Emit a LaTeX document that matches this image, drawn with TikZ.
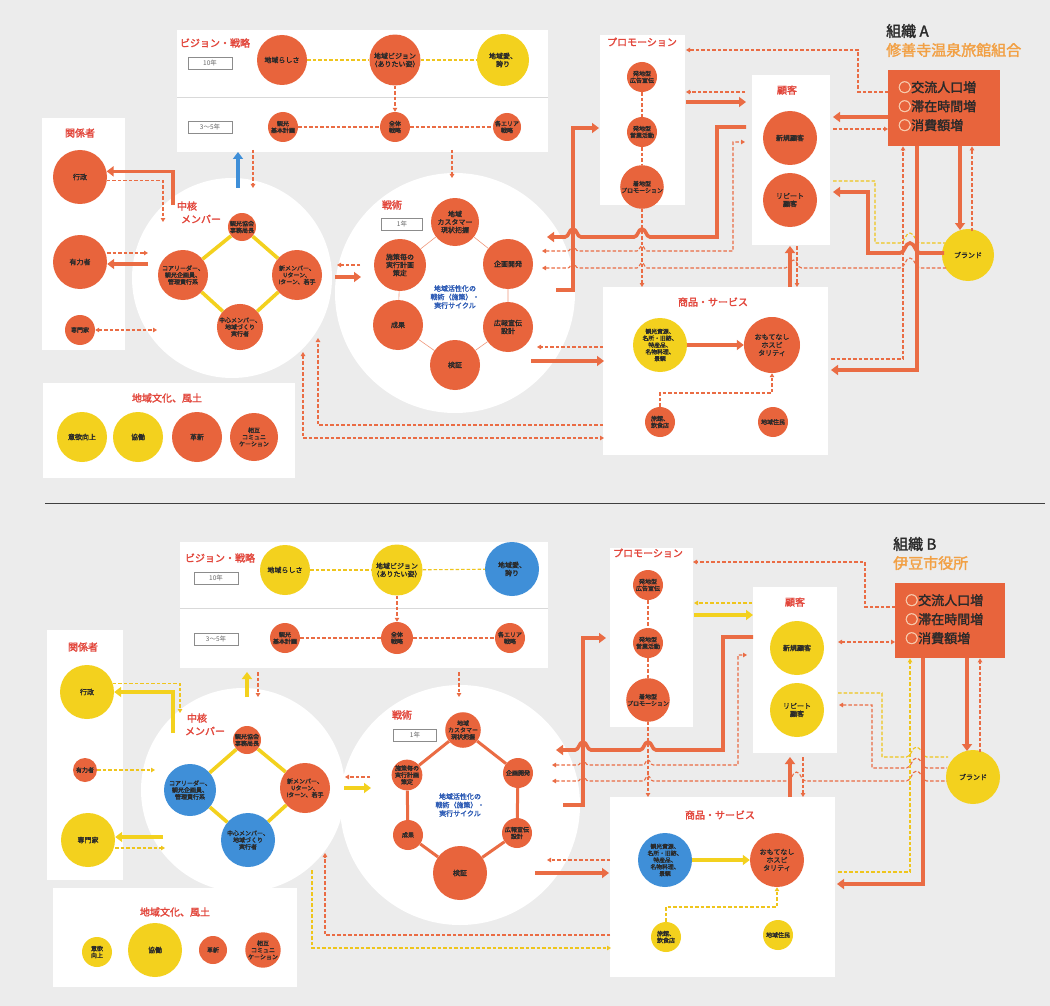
\documentclass[tikz,border=0pt]{standalone}
\usepackage{fontspec}
\setmainfont{Noto Sans CJK JP}[AutoFakeBold=2]
\usetikzlibrary{arrows.meta}
\definecolor{cOr}{HTML}{E8643C}
\definecolor{cYe}{HTML}{F3D11E}
\definecolor{cBl}{HTML}{3F8FD8}
\definecolor{cLn}{HTML}{EA6C44}
\definecolor{cYd}{HTML}{EFC51C}
\definecolor{cRed}{HTML}{E2453A}
\definecolor{cSub}{HTML}{F2A044}
\definecolor{cBg}{HTML}{ECECEC}
\definecolor{cTxt}{HTML}{2A2A2A}
\definecolor{cCyc}{HTML}{2D5BB5}
\definecolor{cRing}{HTML}{F8CDB0}
% a small hump where a horizontal line crosses a vertical one (path runs left to right)
\newcommand\hopover[3]{-- ({#1-#3},#2) .. controls ({#1-#3/2},#2) and ({#1-#3/2},{#2-#3}) .. (#1,{#2-#3}) .. controls ({#1+#3/2},{#2-#3}) and ({#1+#3/2},#2) .. ({#1+#3},#2)}
\begin{document}
\begin{tikzpicture}[x=1pt,y=-1pt,
  nd/.style={circle,inner sep=0pt,align=center,text=cTxt,font=\fontsize{7}{8}\selectfont\bfseries},
  sm/.style={font=\fontsize{6}{6.8}\selectfont\bfseries},
  ocir/.style={nd,fill=cOr},
  ycir/.style={nd,fill=cYe},
  bcir/.style={nd,fill=cBl},
  lbl/.style={inner sep=0pt,text=cRed,font=\fontsize{10}{12}\selectfont\bfseries},
  yrs/.style={draw=black!45,fill=white,line width=0.5pt,minimum width=44pt,minimum height=12pt,inner sep=0pt,text=black!60,font=\fontsize{6.5}{7}\selectfont},
  thk/.style={draw=cLn,line width=3.6pt},
  ythk/.style={draw=cYe,line width=3.6pt},
  bthk/.style={draw=cBl,line width=3.6pt},
  dsh/.style={draw=cLn,line width=1.1pt,dash pattern=on 3.5pt off 2pt},
  ydsh/.style={draw=cYd,line width=1.1pt,dash pattern=on 3.5pt off 2pt},
  ta/.style={-{Triangle[length=7pt,width=10pt]}},
  tas/.style={{Triangle[length=7pt,width=10pt]}-},
  da/.style={-{Triangle[length=4pt,width=4.5pt]}},
  das/.style={{Triangle[length=4pt,width=4.5pt]}-},
  dab/.style={{Triangle[length=4pt,width=4.5pt]}-{Triangle[length=4pt,width=4.5pt]}},
  orgt/.style={inner sep=0pt,align=left,text=cTxt,font=\fontsize{13}{19}\selectfont\bfseries},
  orgn/.style={inner sep=0pt,anchor=west,font=\fontsize{15}{17}\selectfont\bfseries},
  cyc/.style={inner sep=0pt,align=center,text=cCyc,font=\fontsize{7}{8.5}\selectfont\bfseries}
]
\useasboundingbox (0,0) rectangle (1050,1006);
\fill[cBg] (0,0) rectangle (1050,1006);
\draw[black!75,line width=0.7pt] (45,503) -- (1045,503);

% ======================= 組織A =======================
% white panels
\fill[white] (177,30) rectangle (548,152);
\draw[black!15,line width=0.6pt] (177,97) -- (548,97);
\fill[white] (42,118) rectangle (125,350);
\fill[white] (43,383) rectangle (295,478);
\fill[white] (232,278) circle[radius=100];
\fill[white] (455,293) circle[radius=120];
\fill[white] (600,35) rectangle (685,205);
\fill[white] (752,75) rectangle (830,245);
\fill[white] (603,287) rectangle (828,455);

% vision / strategy
\node[lbl] (aVisL) at (215,43) {ビジョン・戦略};
\node[yrs] (aY10) at (210,63) {10年};
\node[yrs] (aY35) at (210,127) {3〜5年};
\node[ocir,minimum size=50pt] (aLoc) at (282,60) {地域らしさ};
\node[ocir,minimum size=48pt] (aVis) at (395,60) {地域ビジョン\\（ありたい姿）};
\node[ycir,minimum size=52pt] (aPri) at (503,60) {地域愛、\\誇り};
\node[ocir,sm,minimum size=30pt] (aPlan) at (283,127) {観光\\基本計画};
\node[ocir,sm,minimum size=30pt] (aStr) at (395,127) {全体\\戦略};
\node[ocir,sm,minimum size=28pt] (aArea) at (507,127) {各エリア\\戦略};
\draw[ydsh] (aLoc) -- (aVis);
\draw[ydsh] (aVis) -- (aPri);
\draw[dsh,da] (aVis) -- (aStr);
\draw[dsh] (aPlan) -- (aStr);
\draw[dsh] (aStr) -- (aArea);

% stakeholders
\node[lbl] (aStkL) at (80,133) {関係者};
\node[ocir,minimum size=54pt] (aGov) at (80,177) {行政};
\node[ocir,minimum size=54pt] (aInf) at (80,262) {有力者};
\node[ocir,sm,minimum size=30pt] (aExp) at (80,330) {専門家};

% core members
\node[lbl] (aCore1) at (187,206) {中核};
\node[lbl] (aCore2) at (201,219) {メンバー};
\node[ocir,sm,minimum size=28pt] (aM1) at (242,227) {観光協会\\事務局長};
\node[ocir,sm,minimum size=50pt] (aM2) at (183,275) {コアリーダー、\\観光企画員、\\管理責行系};
\node[ocir,sm,minimum size=50pt] (aM3) at (297,275) {新メンバー、\\Uターン、\\Iターン、若手};
\node[ocir,sm,minimum size=30pt] (aM4) at (240,327) {中心メンバー、\\地域づくり\\実行者};
\draw[ythk] (aM1) -- (aM2) -- (aM4) -- (aM3) -- (aM1);

\coordinate (aCoreOut) at (173,205);
\coordinate (aCoreIn) at (163,222);
\draw[thk,ta] (aCoreOut) |- (aGov.12);
\draw[dsh,da] (aGov.-8) -| (aCoreIn);
\coordinate (aInfR1) at (148,253);
\coordinate (aInfR2) at (148,264);
\draw[dsh,da] (aInf.east |- aInfR1) -- (aInfR1);
\draw[thk,ta] (aInfR2) -- (aInf.east |- aInfR2);
\coordinate (aExpR) at (157,330);
\draw[dsh,dab] (aExp) -- (aExpR);

\coordinate (aUpA) at (238,188);
\coordinate (aUpB) at (238,152);
\draw[bthk,ta] (aUpA) -- (aUpB);
\coordinate (aDnA) at (253,150);
\coordinate (aDnB) at (253,188);
\draw[dsh,da] (aDnA) -- (aDnB);
\coordinate (aTdA) at (452,150);
\coordinate (aTdB) at (452,178);
\draw[dsh,da] (aTdA) -- (aTdB);

% regional culture
\node[lbl] (aCulL) at (167,398) {地域文化、風土};
\node[ycir,minimum size=50pt] (aC1) at (82,437) {意欲向上};
\node[ycir,minimum size=50pt] (aC2) at (138,437) {協働};
\node[ocir,minimum size=50pt] (aC3) at (197,437) {革新};
\node[ocir,sm,minimum size=48pt] (aC4) at (254,437) {相互\\コミュニ\\ケーション};

% tactics cycle
\node[lbl] (aTacL) at (392,205) {戦術};
\node[yrs,minimum width=41pt] (aY1) at (402,224) {1年};
\node[ocir,minimum size=48pt] (aT1) at (455,222) {地域\\カスタマー\\現状把握};
\node[ocir,minimum size=50pt] (aT2) at (508,264) {企画開発};
\node[ocir,minimum size=50pt] (aT3) at (508,327) {広報宣伝\\設計};
\node[ocir,minimum size=50pt] (aT4) at (455,365) {検証};
\node[ocir,minimum size=50pt] (aT5) at (398,325) {成果};
\node[ocir,minimum size=52pt] (aT6) at (400,265) {施策毎の\\実行計画\\策定};
\node[cyc] (aCyc) at (455,297) {地域活性化の\\戦術（施策）・\\実行サイクル};
\draw[cLn!70,line width=0.6pt] (aT1) -- (aT2) -- (aT3) -- (aT4) -- (aT5) -- (aT6) -- (aT1);

\coordinate (aCtA) at (360,265);
\coordinate (aCtB) at (337,265);
\draw[dsh,da] (aCtA) -- (aCtB);
\coordinate (aCtC) at (335,277);
\coordinate (aCtD) at (361,277);
\draw[thk,ta] (aCtC) -- (aCtD);

% promotion
\node[lbl] (aProL) at (642,42) {プロモーション};
\node[ocir,sm,minimum size=30pt] (aPr1) at (642,77) {発地型\\広告宣伝};
\node[ocir,sm,minimum size=30pt] (aPr2) at (642,132) {発地型\\営業活動};
\node[ocir,sm,minimum size=30pt] (aPr3) at (642,187) {着地型\\プロモーション};
\coordinate (aPrEnd) at (642,287);
\draw[dsh] (aPr1) -- (aPr2);
\draw[dsh] (aPr2) -- (aPr3);
\draw[dsh,da] (aPr3) -- (aPrEnd);

% customers
\node[lbl] (aCusL) at (787,90) {顧客};
\node[ocir,minimum size=54pt] (aNew) at (790,138) {新規顧客};
\node[ocir,minimum size=54pt] (aRep) at (790,200) {リピート\\顧客};
\coordinate (aPcA) at (745,92);
\coordinate (aPcB) at (686,92);
\draw[dsh,da] (aPcA) -- (aPcB);
\coordinate (aPcC) at (686,102);
\coordinate (aPcD) at (746,102);
\draw[thk,ta] (aPcC) -- (aPcD);

% products and services
\node[lbl] (aProdL) at (713,302) {商品・サービス};
\node[ycir,minimum size=54pt,font=\fontsize{5.8}{6.8}\selectfont\bfseries] (aRes) at (660,345) {観光資源、\\名所・旧跡、\\特産品、\\名物料理、\\景観};
\node[ocir,minimum size=56pt] (aHos) at (772,345) {おもてなし\\ホスピ\\タリティ};
\node[ocir,sm,minimum size=30pt] (aInn) at (660,422) {旅館、\\飲食店};
\node[ocir,sm,minimum size=30pt] (aLiv) at (773,422) {地域住民};
\draw[thk,ta] (aRes) -- (aHos);
\draw[dsh,da] (aInn.north) -- (660,393) -- (772,393) -- (aHos.south);

\coordinate (aPuA) at (790,287);
\coordinate (aPuB) at (790,246);
\draw[thk,ta] (aPuA) -- (aPuB);
\coordinate (aPdA) at (797,246);
\coordinate (aPdB) at (797,287);
\draw[dsh,da] (aPdA) -- (aPdB);

% organisation A
\node[orgn,text=cTxt] (aOrgN) at (886,31) {組織 A};
\node[orgn,text=cSub] (aOrgS) at (886,50) {修善寺温泉旅館組合};
\node[fill=cOr,minimum width=112pt,minimum height=76pt,anchor=north west,inner sep=0pt] (aOrg) at (888,70) {};
\node[orgt,anchor=north west] (aOrgT) at (898,81) {{\color{cRing}○}交流人口増\\{\color{cRing}○}滞在時間増\\{\color{cRing}○}消費額増};
\node[ycir,minimum size=52pt] (aBr) at (968,255) {ブランド};

% tactics -> promotion
\coordinate (aTpS) at (556,290);
\coordinate (aTpE) at (599,128);
\draw[thk,ta] (aTpS) -- (573,290) -- (573,128) -- (aTpE);
% new customers -> tactics
\coordinate (aNtE) at (547,237);
\coordinate (aNtS) at (746,127);
\draw[thk,tas] (aNtE) \hopover{573}{237}{8} \hopover{642}{237}{8} -- (717,237) -- (717,127) -- (aNtS);
% dashed feedback lines
\coordinate (aFbA) at (542,251);
\coordinate (aFbB) at (745,142);
\draw[dsh,dab] (aFbA) \hopover{573}{251}{5} \hopover{642}{251}{5} -- (733,251) -- (733,142) -- (aFbB);
\coordinate (aFbC) at (542,268);
\coordinate (aFbD) at (946,268);
\draw[dsh,das] (aFbC) \hopover{573}{268}{5} \hopover{642}{268}{5} \hopover{793.5}{268}{8} \hopover{910}{268}{10} -- (aFbD);
% customers <-> brand
\coordinate (aYbS) at (833,181);
\coordinate (aYbE) at (945,243);
\draw[ydsh] (aYbS) -- (875,181) -- (875,243) \hopover{910}{243}{10} -- (aYbE);
\coordinate (aRbE) at (833,192);
\coordinate (aRbS) at (944,253);
\draw[thk,tas] (aRbE) -- (868,192) -- (868,253) \hopover{910}{253}{10} -- (aRbS);
% organisation links
\coordinate (aOpE) at (686,50);
\draw[dsh,da] (aOrg.west |- 0,92) -- (858,92) -- (858,50) -- (aOpE);
\coordinate (aOnE) at (833,117);
\draw[thk,ta] (aOrg.west |- 0,117) -- (aOnE);
\coordinate (aNoS) at (833,129);
\draw[dsh,da] (aNoS) -- (aOrg.west |- 0,129);
\coordinate (aObE) at (960,230);
\draw[thk,ta] (aOrg.south -| aObE) -- (aObE);
\coordinate (aBoS) at (972,231);
\draw[dsh,da] (aBoS) -- (aOrg.south -| aBoS);
\coordinate (aOhE) at (831,370);
\draw[thk,ta] (aOrg.south -| 917,0) -- (917,370) -- (aOhE);
\coordinate (aHoS) at (831,359);
\draw[dsh,da] (aHoS) -- (903,359) -- (aOrg.south -| 903,0);

% tactics <-> products
\coordinate (aTsA) at (603,347);
\coordinate (aTsB) at (537,347);
\draw[dsh,da] (aTsA) -- (aTsB);
\coordinate (aTsC) at (531,361);
\coordinate (aTsD) at (604,361);
\draw[thk,ta] (aTsC) -- (aTsD);
% core <-> products
\coordinate (aCpA) at (603,425);
\coordinate (aCpB) at (318,338);
\draw[dsh,da] (aCpA) -- (318,425) -- (aCpB);
\coordinate (aCpC) at (303,352);
\coordinate (aCpD) at (604,438);
\draw[dsh,dab] (aCpC) -- (303,438) -- (aCpD);

% ======================= 組織B =======================
\fill[white] (180,542) rectangle (548,668);
\draw[black!15,line width=0.6pt] (180,608) -- (548,608);
\fill[white] (47,630) rectangle (123,880);
\fill[white] (53,888) rectangle (297,987);
\fill[white] (243,790) circle[radius=102];
\fill[white] (460,805) circle[radius=120];
\fill[white] (610,548) rectangle (693,727);
\fill[white] (753,587) rectangle (837,753);
\fill[white] (610,797) rectangle (835,977);

% vision / strategy
\node[lbl] (bVisL) at (220,558) {ビジョン・戦略};
\node[yrs] (bY10) at (216,578) {10年};
\node[yrs] (bY35) at (216,639) {3〜5年};
\node[ycir,minimum size=50pt] (bLoc) at (285,570) {地域らしさ};
\node[ycir,minimum size=50pt] (bVis) at (397,570) {地域ビジョン\\（ありたい姿）};
\node[bcir,minimum size=54pt] (bPri) at (512,569) {地域愛、\\誇り};
\node[ocir,sm,minimum size=30pt] (bPlan) at (285,638) {観光\\基本計画};
\node[ocir,sm,minimum size=32pt] (bStr) at (397,638) {全体\\戦略};
\node[ocir,sm,minimum size=30pt] (bArea) at (510,638) {各エリア\\戦略};
\draw[ydsh] (bLoc) -- (bVis);
\draw[ydsh] (bVis) -- (bPri);
\draw[dsh,da] (bVis) -- (bStr);
\draw[dsh] (bPlan) -- (bStr);
\draw[dsh] (bStr) -- (bArea);

% stakeholders
\node[lbl] (bStkL) at (83,647) {関係者};
\node[ycir,minimum size=54pt] (bGov) at (87,692) {行政};
\node[ocir,sm,minimum size=24pt] (bInf) at (85,770) {有力者};
\node[ycir,minimum size=54pt] (bExp) at (88,840) {専門家};

% core members
\node[lbl] (bCore1) at (197,718) {中核};
\node[lbl] (bCore2) at (205,731) {メンバー};
\node[ocir,sm,minimum size=28pt] (bM1) at (247,740) {観光協会\\事務局長};
\node[bcir,sm,minimum size=52pt] (bM2) at (190,790) {コアリーダー、\\観光企画員、\\管理責行系};
\node[ocir,sm,minimum size=50pt] (bM3) at (305,788) {新メンバー、\\Uターン、\\Iターン、若手};
\node[bcir,sm,minimum size=54pt] (bM4) at (248,840) {中心メンバー、\\地域づくり\\実行者};
\draw[ythk] (bM1) -- (bM2) -- (bM4) -- (bM3) -- (bM1);

\coordinate (bCoreOut) at (173,733);
\coordinate (bCoreIn) at (180,713);
\draw[ythk,ta] (bCoreOut) |- (bGov.east);
\draw[ydsh,da] (bGov.18) -| (bCoreIn);
\coordinate (bInfR) at (155,770);
\draw[ydsh,da] (bInf) -- (bInfR);
\coordinate (bExpR1) at (163,837);
\coordinate (bExpR2) at (165,848);
\draw[ythk,ta] (bExpR1) -- (bExp.east |- bExpR1);
\draw[ydsh,da] (bExp.east |- bExpR2) -- (bExpR2);

\coordinate (bUpA) at (247,697);
\coordinate (bUpB) at (247,672);
\draw[ythk,ta] (bUpA) -- (bUpB);
\coordinate (bDnA) at (258,672);
\coordinate (bDnB) at (258,697);
\draw[dsh,da] (bDnA) -- (bDnB);
\coordinate (bTdA) at (459,672);
\coordinate (bTdB) at (459,697);
\draw[dsh,da] (bTdA) -- (bTdB);

% regional culture
\node[lbl] (bCulL) at (175,912) {地域文化、風土};
\node[ycir,sm,minimum size=30pt] (bC1) at (97,952) {意欲\\向上};
\node[ycir,minimum size=54pt] (bC2) at (155,950) {協働};
\node[ocir,sm,minimum size=28pt] (bC3) at (213,950) {革新};
\node[ocir,sm,minimum size=28pt] (bC4) at (263,950) {相互\\コミュニ\\ケーション};

% tactics cycle
\node[lbl] (bTacL) at (402,715) {戦術};
\node[yrs,minimum width=43pt] (bY1) at (415,735) {1年};
\node[ocir,sm,minimum size=30pt] (bT1) at (463,730) {地域\\カスタマー\\現状把握};
\node[ocir,sm,minimum size=30pt] (bT2) at (518,773) {企画開発};
\node[ocir,sm,minimum size=30pt] (bT3) at (517,833) {広報宣伝\\設計};
\node[ocir,minimum size=54pt] (bT4) at (460,873) {検証};
\node[ocir,sm,minimum size=30pt] (bT5) at (408,835) {成果};
\node[ocir,sm,minimum size=30pt] (bT6) at (407,775) {施策毎の\\実行計画\\策定};
\node[cyc] (bCyc) at (460,805) {地域活性化の\\戦術（施策）・\\実行サイクル};
\draw[cLn,line width=3pt] (bT1) -- (bT2) -- (bT3) -- (bT4) -- (bT5) -- (bT6) -- (bT1);

\coordinate (bCtA) at (370,777);
\coordinate (bCtB) at (345,777);
\draw[dsh,da] (bCtA) -- (bCtB);
\coordinate (bCtC) at (344,788);
\coordinate (bCtD) at (371,788);
\draw[ythk,ta] (bCtC) -- (bCtD);

% promotion
\node[lbl] (bProL) at (648,553) {プロモーション};
\node[ocir,sm,minimum size=30pt] (bPr1) at (648,585) {発地型\\広告宣伝};
\node[ocir,sm,minimum size=30pt] (bPr2) at (648,643) {発地型\\営業活動};
\node[ocir,sm,minimum size=30pt] (bPr3) at (648,700) {着地型\\プロモーション};
\coordinate (bPrEnd) at (648,797);
\draw[dsh] (bPr1) -- (bPr2);
\draw[dsh] (bPr2) -- (bPr3);
\draw[dsh,da] (bPr3) -- (bPrEnd);

% customers
\node[lbl] (bCusL) at (795,602) {顧客};
\node[ycir,minimum size=54pt] (bNew) at (797,648) {新規顧客};
\node[ycir,minimum size=54pt] (bRep) at (797,710) {リピート\\顧客};
\coordinate (bPcA) at (752,603);
\coordinate (bPcB) at (694,603);
\draw[ydsh,da] (bPcA) -- (bPcB);
\coordinate (bPcC) at (694,615);
\coordinate (bPcD) at (753,615);
\draw[ythk,ta] (bPcC) -- (bPcD);

% products and services
\node[lbl] (bProdL) at (720,815) {商品・サービス};
\node[bcir,minimum size=54pt,font=\fontsize{5.8}{6.8}\selectfont\bfseries] (bRes) at (665,860) {観光資源、\\名所・旧跡、\\特産品、\\名物料理、\\景観};
\node[ocir,minimum size=54pt] (bHos) at (777,860) {おもてなし\\ホスピ\\タリティ};
\node[ycir,sm,minimum size=30pt] (bInn) at (666,937) {旅館、\\飲食店};
\node[ycir,sm,minimum size=30pt] (bLiv) at (778,935) {地域住民};
\draw[ythk,ta] (bRes) -- (bHos);
\draw[ydsh,da] (bInn.north) -- (666,907) -- (777,907) -- (bHos.south);

\coordinate (bPuA) at (790,797);
\coordinate (bPuB) at (790,757);
\draw[thk,ta] (bPuA) -- (bPuB);
\coordinate (bPdA) at (803,757);
\coordinate (bPdB) at (803,797);
\draw[dsh,da] (bPdA) -- (bPdB);

% organisation B
\node[orgn,text=cTxt] (bOrgN) at (893,544) {組織 B};
\node[orgn,text=cSub] (bOrgS) at (893,563) {伊豆市役所};
\node[fill=cOr,minimum width=110pt,minimum height=75pt,anchor=north west,inner sep=0pt] (bOrg) at (895,583) {};
\node[orgt,anchor=north west] (bOrgT) at (905,594) {{\color{cRing}○}交流人口増\\{\color{cRing}○}滞在時間増\\{\color{cRing}○}消費額増};
\node[ycir,minimum size=54pt] (bBr) at (973,777) {ブランド};

% tactics -> promotion
\coordinate (bTpS) at (563,805);
\coordinate (bTpE) at (606,638);
\draw[thk,ta] (bTpS) -- (583,805) -- (583,638) -- (bTpE);
% new customers -> tactics
\coordinate (bNtE) at (556,750);
\coordinate (bNtS) at (753,637);
\draw[thk,tas] (bNtE) \hopover{583}{750}{8} \hopover{648}{750}{8} -- (723,750) -- (723,637) -- (bNtS);
% dashed feedback lines
\coordinate (bFbA) at (552,765);
\coordinate (bFbB) at (747,655);
\draw[dsh,dab] (bFbA) \hopover{583}{765}{5} \hopover{648}{765}{5} -- (738,765) -- (738,655) -- (bFbB);
\coordinate (bFbC) at (552,781);
\coordinate (bFbD) at (947,781);
\draw[dsh,das] (bFbC) \hopover{583}{781}{5} \hopover{648}{781}{5} \hopover{796.5}{781}{9} \hopover{916.5}{781}{10} -- (bFbD);
% customers <-> brand
\coordinate (bYbS) at (838,693);
\coordinate (bYbE) at (948,757);
\draw[ydsh] (bYbS) -- (882,693) -- (882,757) \hopover{916.5}{757}{10} -- (bYbE);
\coordinate (bRbE) at (839,705);
\coordinate (bRbS) at (947,768);
\draw[dsh,das] (bRbE) -- (872,705) -- (872,768) \hopover{916.5}{768}{10} -- (bRbS);
% organisation links
\coordinate (bOpE) at (693,562);
\draw[dsh,da] (bOrg.west |- 0,607) -- (865,607) -- (865,562) -- (bOpE);
\coordinate (bNoS) at (838,642);
\draw[dsh,dab] (bNoS) -- (bOrg.west |- 0,642);
\coordinate (bObE) at (967,751);
\draw[thk,ta] (bOrg.south -| bObE) -- (bObE);
\coordinate (bBoS) at (980,752);
\draw[dsh,da] (bBoS) -- (bOrg.south -| bBoS);
\coordinate (bOhE) at (837,884);
\draw[thk,ta] (bOrg.south -| 923,0) -- (923,884) -- (bOhE);
\coordinate (bHoS) at (838,872);
\draw[ydsh,da] (bHoS) -- (910,872) -- (bOrg.south -| 910,0);

% tactics <-> products
\coordinate (bTsA) at (610,860);
\coordinate (bTsB) at (547,860);
\draw[dsh,da] (bTsA) -- (bTsB);
\coordinate (bTsC) at (535,873);
\coordinate (bTsD) at (609,873);
\draw[thk,ta] (bTsC) -- (bTsD);
% core <-> products
\coordinate (bCpA) at (610,935);
\coordinate (bCpB) at (325,853);
\draw[dsh,da] (bCpA) -- (325,935) -- (bCpB);
\coordinate (bCpC) at (312,870);
\coordinate (bCpD) at (611,948);
\draw[ydsh,da] (bCpC) -- (312,948) -- (bCpD);
\end{tikzpicture}
\end{document}
